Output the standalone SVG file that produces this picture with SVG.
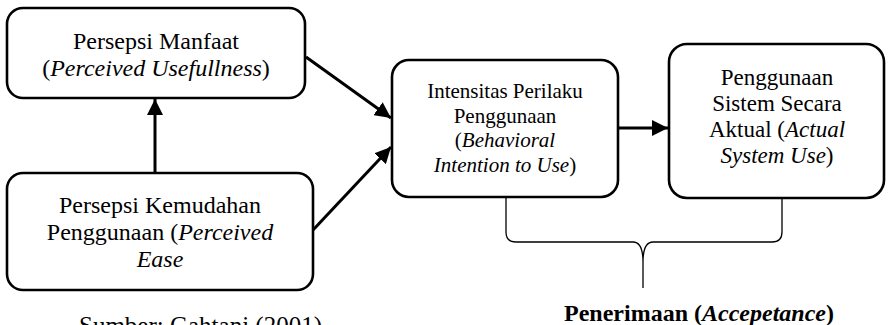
<svg xmlns="http://www.w3.org/2000/svg" width="889" height="325" viewBox="0 0 889 325">
<style>
.box{fill:#fff;stroke:#000;stroke-width:2.6}
.t{font-family:'Liberation Serif','DejaVu Serif',serif;fill:#000;text-anchor:middle}
.f25{font-size:25px}
.f24{font-size:24px}
.f23{font-size:23px}
.f21{font-size:21px}
.i{font-style:italic}
.arr{stroke:#000;stroke-width:3;fill:none}
.brace{stroke:#000;stroke-width:1.3;fill:none}
</style>
<defs>
<marker id="ah" markerUnits="userSpaceOnUse" markerWidth="18" markerHeight="16" refX="16" refY="8" orient="auto">
<path d="M0,0 L16,8 L0,16 Z" fill="#000"/>
</marker>
</defs>
<g id="connectors">
<line class="arr" x1="155" y1="173" x2="155" y2="99" marker-end="url(#ah)"/>
<line class="arr" x1="306" y1="57" x2="391" y2="118" marker-end="url(#ah)"/>
<line class="arr" x1="313" y1="230" x2="391" y2="147" marker-end="url(#ah)"/>
<line class="arr" x1="618" y1="128" x2="668" y2="128" marker-end="url(#ah)"/>
<path class="brace" d="M506,198 V232 Q506,242 516,242 H633 Q643,242 643,262 V288 M643,262 Q643,242 653,242 H772 Q782,242 782,232 V198"/>
</g>
<g id="node-manfaat">
<rect class="box" x="7" y="8" width="298" height="90" rx="16"/>
<text class="t f24" x="156" y="49">Persepsi Manfaat</text>
<text class="t f24" x="156" y="76">(<tspan class="i">Perceived Usefullness</tspan>)</text>
</g>
<g id="node-kemudahan">
<rect class="box" x="7" y="173" width="306" height="117" rx="16"/>
<text class="t f24" x="160" y="213">Persepsi Kemudahan</text>
<text class="t f24" x="160" y="240">Penggunaan (<tspan class="i">Perceived</tspan></text>
<text class="t f24 i" x="160" y="267">Ease</text>
</g>
<g id="node-intensitas">
<rect class="box" x="392" y="60" width="226" height="137" rx="17"/>
<text class="t f21" x="505" y="98">Intensitas Perilaku</text>
<text class="t f21" x="505" y="123">Penggunaan</text>
<text class="t f21" x="505" y="147">(<tspan class="i">Behavioral</tspan></text>
<text class="t f21" x="505" y="172"><tspan class="i">Intention to Use</tspan>)</text>
</g>
<g id="node-aktual">
<rect class="box" x="669" y="44" width="215" height="154" rx="18"/>
<text class="t f23" x="777" y="85">Penggunaan</text>
<text class="t f23" x="777" y="111">Sistem Secara</text>
<text class="t f23" x="777" y="137">Aktual (<tspan class="i">Actual</tspan></text>
<text class="t f23" x="777" y="163"><tspan class="i">System Use</tspan>)</text>
</g>
<g id="label-penerimaan">
<text class="t f24" x="699" y="321" font-weight="bold">Penerimaan (<tspan class="i">Accepetance</tspan>)</text>
</g>
<g id="label-sumber">
<text class="t f25" x="79" y="334" style="text-anchor:start">Sumber: Gahtani (2001)</text>
</g>
</svg>
